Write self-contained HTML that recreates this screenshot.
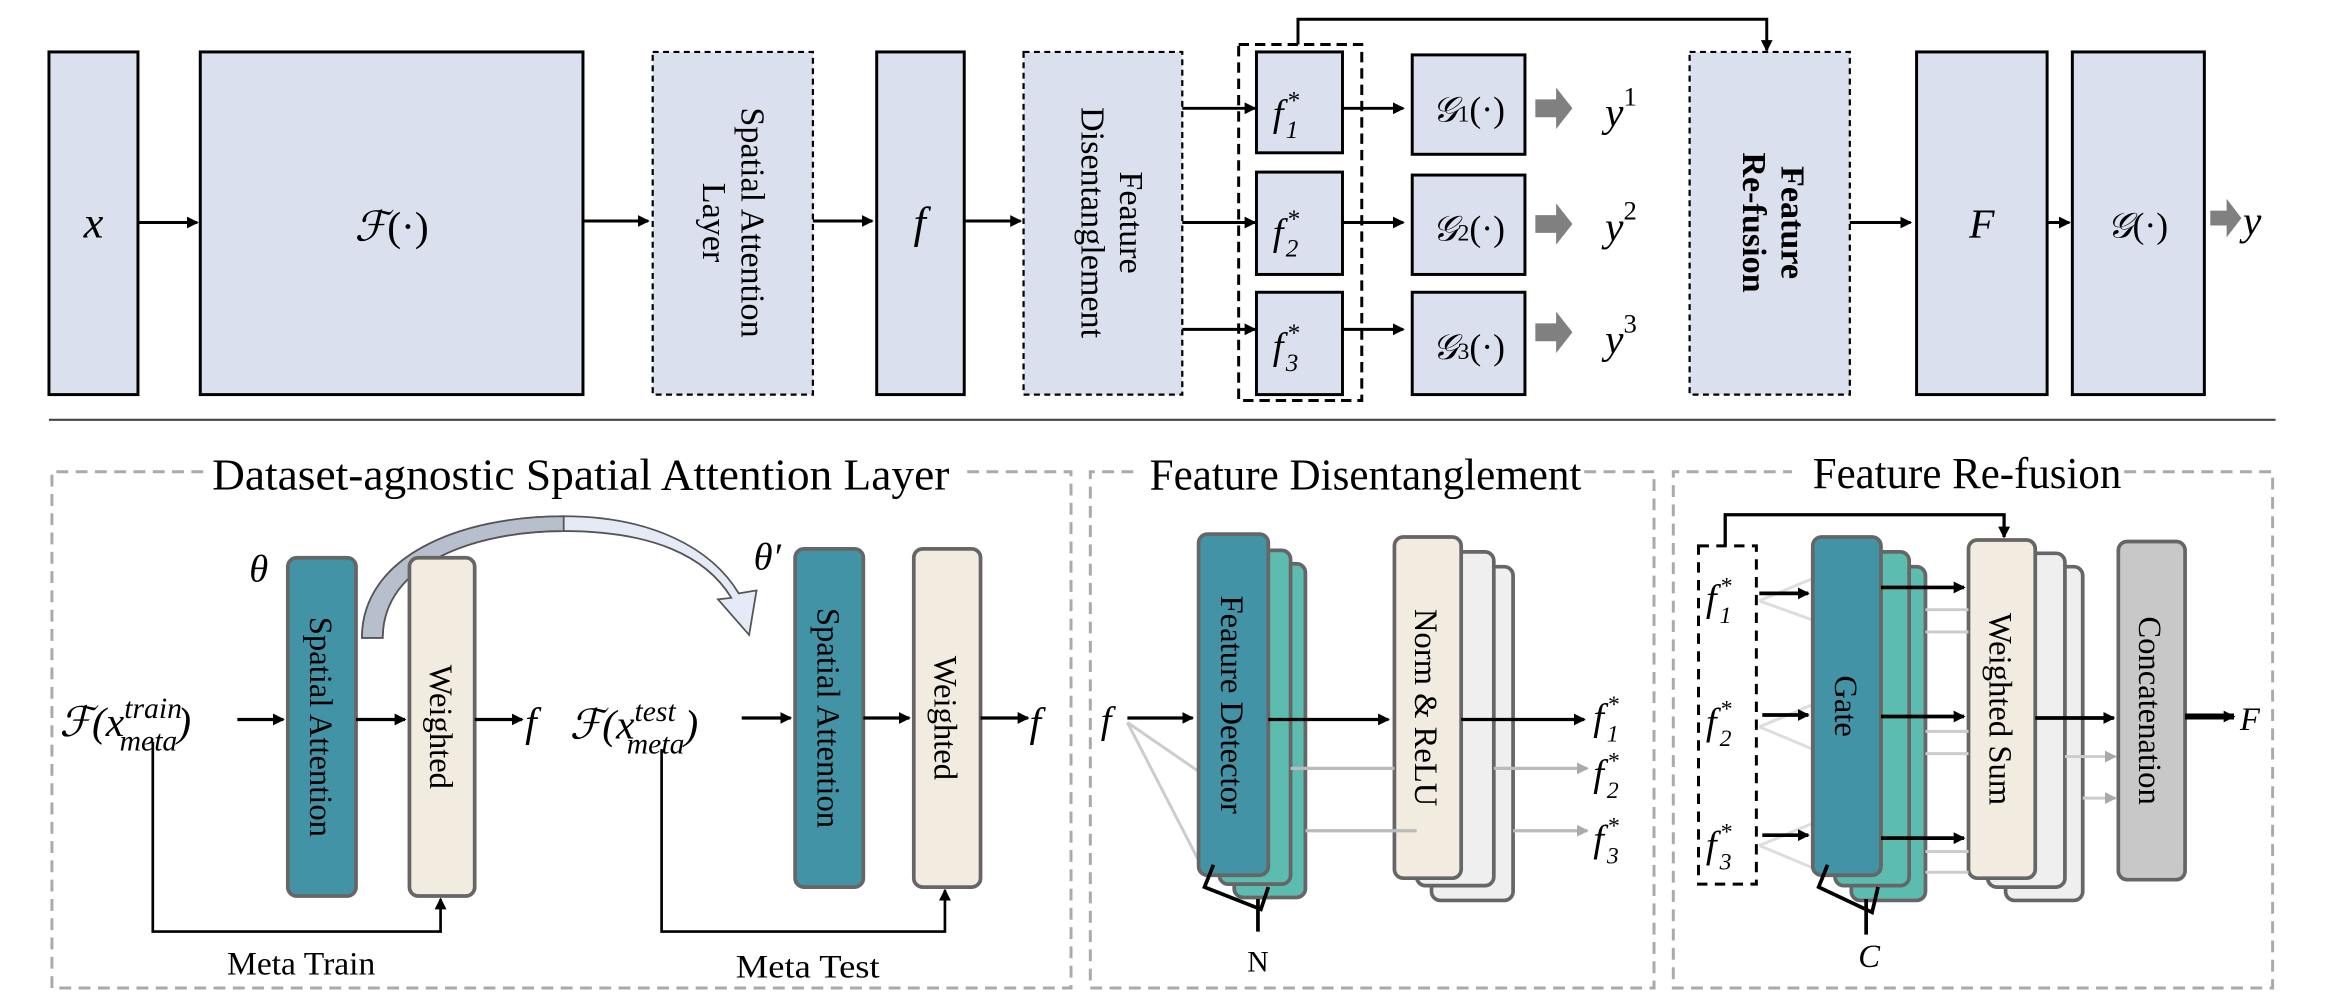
<!DOCTYPE html>
<html><head><meta charset="utf-8"><style>
html,body{margin:0;padding:0;background:#fff;}
svg{display:block;}
text{font-family:"Liberation Serif",serif;fill:#000;}
.m{font-style:italic;}
</style></head><body>
<svg width="2326" height="1004" viewBox="0 0 1568 676.8" xmlns="http://www.w3.org/2000/svg">
<defs>
<marker id="a" markerWidth="8" markerHeight="8" refX="7" refY="4" orient="auto" markerUnits="userSpaceOnUse"><path d="M0,0 L8,4 L0,8 z" fill="#000"/></marker>
<marker id="g" markerWidth="8" markerHeight="8" refX="7" refY="4" orient="auto" markerUnits="userSpaceOnUse"><path d="M0,0 L8,4 L0,8 z" fill="#aaa"/></marker>
</defs>
<g stroke="#000" stroke-width="2" fill="#dae0ed">
<rect x="33" y="35" width="60" height="231"/>
<rect x="135" y="35" width="258" height="231"/>
<rect x="440" y="35" width="108" height="231" stroke-dasharray="4,3" stroke-width="1.5"/>
<rect x="591" y="35" width="59" height="231"/>
<rect x="690" y="35" width="107" height="231" stroke-dasharray="4,3" stroke-width="1.5"/>
<rect x="847" y="35" width="58" height="68"/>
<rect x="847" y="116" width="58" height="69"/>
<rect x="847" y="197" width="58" height="69"/>
<rect x="952" y="37" width="76" height="67"/>
<rect x="952" y="118" width="76" height="67"/>
<rect x="952" y="197" width="76" height="69"/>
<rect x="1139" y="35" width="108" height="231" stroke-dasharray="4,3" stroke-width="1.5"/>
<rect x="1292" y="35" width="88" height="231"/>
<rect x="1397" y="35" width="89" height="231"/>
</g>
<rect x="835" y="30" width="83" height="240" fill="none" stroke="#000" stroke-width="2" stroke-dasharray="7,4"/>
<g stroke="#000" stroke-width="2" fill="none" marker-end="url(#a)">
<line x1="93" y1="150" x2="133" y2="150"/>
<line x1="393" y1="149" x2="437" y2="149"/>
<line x1="548" y1="149" x2="588" y2="149"/>
<line x1="650" y1="149" x2="688" y2="149"/>
<line x1="797" y1="73" x2="846" y2="73"/>
<line x1="797" y1="150" x2="846" y2="150"/>
<line x1="797" y1="222" x2="846" y2="222"/>
<line x1="905" y1="73" x2="946" y2="73"/>
<line x1="905" y1="150" x2="946" y2="150"/>
<line x1="905" y1="222" x2="946" y2="222"/>
<polyline points="875,30 875,13 1191,13 1191,34" stroke-width="2"/>
<line x1="1247" y1="150" x2="1288" y2="150"/>
<line x1="1380" y1="150" x2="1395" y2="150"/>
</g>
<g fill="#808080">
<path d="M1035,67 h14 v-8 l11,14 l-11,14 v-8 h-14z"/>
<path d="M1035,145 h14 v-8 l11,14 l-11,14 v-8 h-14z"/>
<path d="M1035,218 h14 v-8 l11,14 l-11,14 v-8 h-14z"/>
<path d="M1490,142 h11 v-8 l10,13 l-10,13 v-8 h-11z"/>
</g>
<text x="63" y="160" class="m" font-size="30" text-anchor="middle">x</text>
<text x="264" y="162" font-size="28" text-anchor="middle"><tspan class="m">ℱ</tspan>(·)</text>
<text x="620" y="160" class="m" font-size="30" text-anchor="middle">f</text>
<g font-size="23">
<text transform="translate(494,150) rotate(90)" text-anchor="middle"><tspan x="0" y="-6">Spatial Attention</tspan><tspan x="0" y="20">Layer</tspan></text>
<text transform="translate(743,150) rotate(90)" text-anchor="middle"><tspan x="0" y="-12">Feature</tspan><tspan x="0" y="14">Disentanglement</tspan></text>
<text transform="translate(1193,150) rotate(90)" text-anchor="middle" font-weight="bold"><tspan x="0" y="-8">Feature</tspan><tspan x="0" y="18">Re-fusion</tspan></text>
</g>
<g font-size="26" class="m">
<text x="858" y="85">f<tspan font-size="17" dy="-12" dx="2">*</tspan><tspan font-size="17" dy="20" dx="-9">1</tspan></text>
<text x="858" y="165">f<tspan font-size="17" dy="-12" dx="2">*</tspan><tspan font-size="17" dy="20" dx="-9">2</tspan></text>
<text x="858" y="242">f<tspan font-size="17" dy="-12" dx="2">*</tspan><tspan font-size="17" dy="20" dx="-9">3</tspan></text>
</g>
<g font-size="24">
<text x="990" y="82" text-anchor="middle"><tspan class="m">𝒢</tspan><tspan font-size="16">1</tspan>(·)</text>
<text x="990" y="162" text-anchor="middle"><tspan class="m">𝒢</tspan><tspan font-size="16">2</tspan>(·)</text>
<text x="990" y="242" text-anchor="middle"><tspan class="m">𝒢</tspan><tspan font-size="16">3</tspan>(·)</text>
<text x="1441" y="160" text-anchor="middle"><tspan class="m">𝒢</tspan>(·)</text>
</g>
<g font-size="28" class="m">
<text x="1082" y="85">y<tspan font-size="18" dy="-14" font-style="normal">1</tspan></text>
<text x="1082" y="162">y<tspan font-size="18" dy="-14" font-style="normal">2</tspan></text>
<text x="1082" y="238">y<tspan font-size="18" dy="-14" font-style="normal">3</tspan></text>
<text x="1512" y="158">y</text>
<text x="1336" y="160" text-anchor="middle">F</text>
</g>
<line x1="33" y1="283" x2="1534" y2="283" stroke="#444" stroke-width="1.5"/>

<g fill="none" stroke="#aaa" stroke-width="2" stroke-dasharray="8,5">
<path d="M137,318 H35 V666 H722 V318 H648"/>
<path d="M1068,318 H1115 V666 H735 V318 H766"/>
<path d="M1432,318 H1532 V666 H1128 V318 H1208"/>
</g>
<g font-size="30">
<text x="143" y="330" textLength="497" lengthAdjust="spacingAndGlyphs">Dataset-agnostic Spatial Attention Layer</text>
<text x="775" y="330" textLength="291" lengthAdjust="spacingAndGlyphs">Feature Disentanglement</text>
<text x="1222" y="329" textLength="208" lengthAdjust="spacingAndGlyphs">Feature Re-fusion</text>
</g>

<path d="M244,430 C244,375 310,348 380,348 C440,348 480,370 498,400 L510,398 L505,428 L484,404 L493,403 C476,375 440,358 380,358 C320,358 258,380 258,430 Z" fill="#e4ebf7" stroke="#555" stroke-width="1.2"/>
<path d="M244,430 C244,375 310,348 380,348 L380,358 C320,358 258,380 258,430 Z" fill="#b8bfcc" stroke="#555" stroke-width="1.2"/>
<g stroke="#666" stroke-width="2.5">
<rect x="194" y="376" width="46" height="228" rx="6" fill="#4393a7"/>
<rect x="276" y="376" width="44" height="228" rx="6" fill="#f2ebdf"/>
<rect x="536" y="370" width="46" height="228" rx="6" fill="#4393a7"/>
<rect x="616" y="370" width="45" height="228" rx="6" fill="#f2ebdf"/>
</g>
<g font-size="22">
<text transform="translate(217,490) rotate(90)" text-anchor="middle" y="8">Spatial Attention</text>
<text transform="translate(298,490) rotate(90)" text-anchor="middle" y="8">Weighted</text>
<text transform="translate(559,484) rotate(90)" text-anchor="middle" y="8">Spatial Attention</text>
<text transform="translate(638,484) rotate(90)" text-anchor="middle" y="8">Weighted</text>
</g>
<g stroke="#000" stroke-width="2.2" fill="none" marker-end="url(#a)">
<line x1="160" y1="485" x2="191" y2="485"/>
<line x1="240" y1="485" x2="273" y2="485"/>
<line x1="320" y1="485" x2="352" y2="485"/>
<line x1="500" y1="484" x2="533" y2="484"/>
<line x1="582" y1="484" x2="613" y2="484"/>
<line x1="661" y1="484" x2="693" y2="484"/>
<polyline points="103,500 103,628 297,628 297,606" stroke-width="1.8"/>
<polyline points="446,505 446,628 637,628 637,600" stroke-width="1.8"/>
</g>
<g font-size="28" class="m">
<text x="168" y="392" font-size="26">θ</text>
<text x="508" y="384" font-size="26">θ′</text>
<text x="40" y="496">ℱ(x<tspan font-size="20" dy="-12">train</tspan><tspan font-size="20" dx="-42" dy="22">meta</tspan><tspan dy="-10">)</tspan></text>
<text x="384" y="498">ℱ(x<tspan font-size="20" dy="-12">test</tspan><tspan font-size="20" dx="-33" dy="22">meta</tspan><tspan dy="-10">)</tspan></text>
<text x="354" y="496">f</text>
<text x="694" y="496">f</text>
</g>
<g font-size="22">
<text x="153" y="657" textLength="100" lengthAdjust="spacingAndGlyphs">Meta Train</text>
<text x="496" y="659" textLength="97" lengthAdjust="spacingAndGlyphs">Meta Test</text>
</g>

<g stroke="#ccc" stroke-width="2" fill="none">
<polyline points="760,487 808,520"/><polyline points="760,487 808,580"/>
</g>
<g stroke="#666" stroke-width="2.5">
<rect x="832" y="380" width="48" height="225" rx="6" fill="#5dbcb0"/>
<rect x="822" y="371" width="48" height="225" rx="6" fill="#5dbcb0"/>
<rect x="808" y="360" width="47" height="230" rx="6" fill="#4393a7"/>
<rect x="965" y="382" width="55" height="225" rx="6" fill="#f0eff0"/>
<rect x="955" y="372" width="52" height="225" rx="6" fill="#f0eff0"/>
<rect x="940" y="362" width="45" height="230" rx="6" fill="#f2ebdf"/>
</g>
<text transform="translate(831,475) rotate(90)" text-anchor="middle" y="8" font-size="22">Feature  Detector</text>
<text transform="translate(962,477) rotate(90)" text-anchor="middle" y="8" font-size="22">Norm &amp; ReLU</text>
<g stroke="#000" stroke-width="2.2" fill="none" marker-end="url(#a)">
<line x1="760" y1="484" x2="804" y2="484"/>
<line x1="855" y1="485" x2="936" y2="485"/>
<line x1="985" y1="485" x2="1068" y2="485"/>
</g>
<g stroke="#bbb" stroke-width="2.2" fill="none">
<line x1="870" y1="518" x2="940" y2="518"/>
<line x1="880" y1="560" x2="955" y2="560"/>
<line x1="1007" y1="518" x2="1070" y2="518" marker-end="url(#g)"/>
<line x1="1020" y1="560" x2="1070" y2="560" marker-end="url(#g)"/>
</g>
<path d="M818,583 L812,598 L850,613 L855,598 M848,606 V628" stroke="#000" stroke-width="2.5" fill="none"/>
<text x="848" y="655" font-size="20" text-anchor="middle">N</text>
<g font-size="26" class="m">
<text x="742" y="494">f</text>
<text x="1074" y="492">f<tspan font-size="16" dy="-12" dx="2">*</tspan><tspan font-size="16" dy="20" dx="-8">1</tspan></text>
<text x="1074" y="530">f<tspan font-size="16" dy="-12" dx="2">*</tspan><tspan font-size="16" dy="20" dx="-8">2</tspan></text>
<text x="1074" y="574">f<tspan font-size="16" dy="-12" dx="2">*</tspan><tspan font-size="16" dy="20" dx="-8">3</tspan></text>
</g>

<rect x="1145" y="368" width="39" height="228" fill="none" stroke="#000" stroke-width="2" stroke-dasharray="7,5"/>
<polyline points="1163,368 1163,347 1351,347 1351,362" stroke="#000" stroke-width="2.2" fill="none" marker-end="url(#a)"/>
<g stroke="#ddd" stroke-width="2" fill="none">
<polyline points="1186,405 1222,390"/><polyline points="1186,405 1222,418"/>
<polyline points="1186,490 1222,475"/><polyline points="1186,490 1222,505"/>
<polyline points="1186,570 1222,555"/><polyline points="1186,570 1222,585"/>
</g>
<g stroke="#666" stroke-width="2.5">
<rect x="1248" y="382" width="50" height="225" rx="6" fill="#5dbcb0"/>
<rect x="1237" y="372" width="50" height="225" rx="6" fill="#5dbcb0"/>
<rect x="1222" y="362" width="46" height="228" rx="6" fill="#4393a7"/>
<rect x="1352" y="382" width="52" height="225" rx="6" fill="#f0eff0"/>
<rect x="1340" y="373" width="52" height="225" rx="6" fill="#f0eff0"/>
<rect x="1327" y="364" width="45" height="228" rx="6" fill="#f2ebdf"/>
<rect x="1428" y="365" width="45" height="228" rx="6" fill="#c8c8c8"/>
</g>
<text transform="translate(1245,476) rotate(90)" text-anchor="middle" y="8" font-size="22">Gate</text>
<text transform="translate(1349,478) rotate(90)" text-anchor="middle" y="8" font-size="22">Weighted Sum</text>
<text transform="translate(1450,479) rotate(90)" text-anchor="middle" y="8" font-size="22">Concatenation</text>
<g stroke="#000" stroke-width="2.5" fill="none" marker-end="url(#a)">
<line x1="1186" y1="400" x2="1219" y2="400"/>
<line x1="1188" y1="482" x2="1219" y2="482"/>
<line x1="1188" y1="563" x2="1219" y2="563"/>
<line x1="1268" y1="396" x2="1324" y2="396"/>
<line x1="1268" y1="483" x2="1324" y2="483"/>
<line x1="1268" y1="565" x2="1324" y2="565"/>
<line x1="1372" y1="484" x2="1425" y2="484"/>
<line x1="1473" y1="483" x2="1506" y2="483" stroke-width="4"/>
</g>
<g stroke="#ccc" stroke-width="2" fill="none">
<line x1="1298" y1="411" x2="1327" y2="411"/><line x1="1298" y1="426" x2="1327" y2="426"/>
<line x1="1298" y1="493" x2="1327" y2="493"/><line x1="1298" y1="508" x2="1327" y2="508"/>
<line x1="1298" y1="574" x2="1327" y2="574"/><line x1="1298" y1="588" x2="1327" y2="588"/>
<line x1="1392" y1="510" x2="1426" y2="510" marker-end="url(#g)"/>
<line x1="1404" y1="538" x2="1426" y2="538" marker-end="url(#g)"/>
</g>
<path d="M1232,583 L1226,598 L1262,615 L1266,598 M1258,606 V630" stroke="#000" stroke-width="2.5" fill="none"/>
<text x="1260" y="652" font-size="22" class="m" text-anchor="middle">C</text>
<g font-size="26" class="m">
<text x="1150" y="412">f<tspan font-size="16" dy="-12" dx="2">*</tspan><tspan font-size="16" dy="20" dx="-8">1</tspan></text>
<text x="1150" y="495">f<tspan font-size="16" dy="-12" dx="2">*</tspan><tspan font-size="16" dy="20" dx="-8">2</tspan></text>
<text x="1150" y="578">f<tspan font-size="16" dy="-12" dx="2">*</tspan><tspan font-size="16" dy="20" dx="-8">3</tspan></text>
<text x="1510" y="492" font-size="22">F</text>
</g>
</svg>
</body></html>
